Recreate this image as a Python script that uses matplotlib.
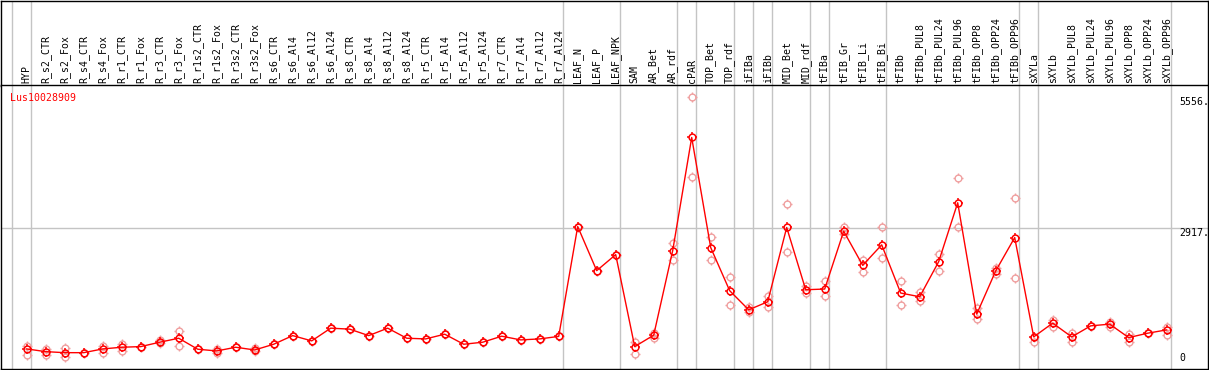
import matplotlib

matplotlib.use("Agg")
import matplotlib.pyplot as plt
import numpy as np
from matplotlib.path import Path

samples = [
    "HYP", "R_s2_CTR", "R_s2_Fox", "R_s4_CTR", "R_s4_Fox", "R_r1_CTR", "R_r1_Fox",
    "R_r3_CTR", "R_r3_Fox", "R_r1s2_CTR", "R_r1s2_Fox", "R_r3s2_CTR", "R_r3s2_Fox",
    "R_s6_CTR", "R_s6_Al4", "R_s6_Al12", "R_s6_Al24", "R_s8_CTR", "R_s8_Al4",
    "R_s8_Al12", "R_s8_Al24", "R_r5_CTR", "R_r5_Al4", "R_r5_Al12", "R_r5_Al24",
    "R_r7_CTR", "R_r7_Al4", "R_r7_Al12", "R_r7_Al24", "LEAF_N", "LEAF_P", "LEAF_NPK",
    "SAM", "AR_Bet", "AR_rdf", "cPAR", "TOP_Bet", "TOP_rdf", "iFIBa", "iFIBb",
    "MID_Bet", "MID_rdf", "tFIBa", "tFIB_Gr", "tFIB_Li", "tFIB_Bi", "tFIBb",
    "tFIBb_PUL8", "tFIBb_PUL24", "tFIBb_PUL96", "tFIBb_OPP8", "tFIBb_OPP24",
    "tFIBb_OPP96", "sXYLa", "sXYLb", "sXYLb_PUL8", "sXYLb_PUL24", "sXYLb_PUL96",
    "sXYLb_OPP8", "sXYLb_OPP24", "sXYLb_OPP96",
]

mean_expr = [
    456, 401, 380, 380, 456, 490, 503, 592, 673, 450, 415, 490, 435, 551, 726,
    619, 877, 857, 726, 877, 673, 659, 755, 551, 592, 714, 639, 659, 710,
    2938, 2043, 2368, 503, 735, 2450, 4743, 2511, 1636, 1249, 1412, 2918, 1656,
    1670, 2842, 2151, 2566, 1589, 1514, 2226, 3420, 1162, 2037, 2714,
    700, 979, 700, 924, 958, 686, 775, 842,
]

rep_a = [
    517, 450, 470, 380, 517, 557, 503, 639, 822, 450, 450, 490, 470, 551, 726,
    619, 877, 857, 726, 877, 673, 659, 755, 551, 592, 714, 639, 659, 710,
    2938, 2043, 2368, 604, 787, 2606, 5556, 2735, 1921, 1296, 1534, 3400, 1738,
    1839, 2938, 2260, 2918, 1833, 1601, 2389, 3929, 1284, 2098, 3508,
    604, 1046, 787, 924, 1005, 755, 775, 909,
]

rep_b = [
    334, 334, 299, 380, 380, 421, 503, 572, 523, 450, 380, 490, 415, 551, 726,
    619, 877, 857, 726, 877, 673, 659, 755, 551, 592, 714, 639, 659, 710,
    2938, 2043, 2368, 348, 680, 2260, 3949, 2260, 1345, 1202, 1296, 2429, 1581,
    1520, 2796, 2008, 2301, 1345, 1418, 2037, 2938, 1060, 1968, 1894,
    700, 909, 592, 924, 909, 592, 775, 741,
]

# last sample index of each tissue group (gray separators)
group_ends = [-1, 0, 28, 31, 34, 35, 37, 38, 39, 41, 42, 45, 52, 53, 60]

scale_ticks = [5556, 2917, 0]
gene = "Lus10028909"

W, H = 1209, 370
FONT = "DejaVu Sans Mono"
GRID = "#c4c4c4"
PINK = "#f0a0a0"


def tick_marker():
    # four short spokes just outside the ring
    verts, codes = [], []
    for dx, dy in [(1, 0), (-1, 0), (0, 1), (0, -1)]:
        verts += [(0.7 * dx, 0.7 * dy), (dx, dy)]
        codes += [Path.MOVETO, Path.LINETO]
    return Path(verts, codes)


def draw_points(ax, x, y, color, mew, line=False, zorder=2):
    ax.plot(x, y, ls="-" if line else "none", lw=1.0, color=color, marker="o", ms=4.9,
            mfc="none", mec=color, mew=mew, zorder=zorder)
    ax.plot(x, y, ls="none", marker=tick_marker(), ms=6.6, mec=color, mew=mew, zorder=zorder)


def main() -> None:
    fig = plt.figure(figsize=(W / 100, H / 100), dpi=100)
    x = np.arange(len(samples))
    xlim = ((1 - 26.7) / 19, (1208 - 26.7) / 19)
    sep_x = [g + 0.2 for g in group_ends]

    head = fig.add_axes([1 / W, (H - 85.5) / H, 1207 / W, 85 / H])
    ax = fig.add_axes([1 / W, 1 / H, 1207 / W, 284 / H])

    for a in (head, ax):
        a.set_xlim(*xlim)
        a.set_xticks([])
        a.set_yticks([])
        for s in a.spines.values():
            s.set_linewidth(1.0)
        for sx in sep_x:
            a.axvline(sx, color=GRID, lw=1.0, zorder=0)

    head.set_ylim(0, 85)
    for xi, name in zip(x, samples):
        head.text(xi, 2.5, name, rotation=90, ha="center", va="bottom",
                  family=FONT, fontsize=7.1)

    ax.set_ylim(49, 5807)
    ax.axhline(scale_ticks[1], color=GRID, lw=1.0, zorder=0)

    draw_points(ax, x, rep_a, PINK, 1.0)
    draw_points(ax, x, rep_b, PINK, 1.0)
    draw_points(ax, x, mean_expr, "red", 1.1, line=True, zorder=3)

    tx = (1179 - 1) / 1207
    ax.text(tx, scale_ticks[0], f"{scale_ticks[0]}.", transform=ax.get_yaxis_transform(),
            ha="left", va="top", family=FONT, fontsize=7.1)
    ax.text(tx, scale_ticks[1], f"{scale_ticks[1]}.", transform=ax.get_yaxis_transform(),
            ha="left", va="top", family=FONT, fontsize=7.1)
    ax.text(tx, 0.02, f"{scale_ticks[2]}", transform=ax.transAxes,
            ha="left", va="bottom", family=FONT, fontsize=7.1)

    ax.text(9 / 1207, 0.973, gene, transform=ax.transAxes, ha="left", va="top",
            color="red", family=FONT, fontsize=7.1)

    fig.savefig("out.png", dpi=100)
    plt.close(fig)


if __name__ == "__main__":
    main()
